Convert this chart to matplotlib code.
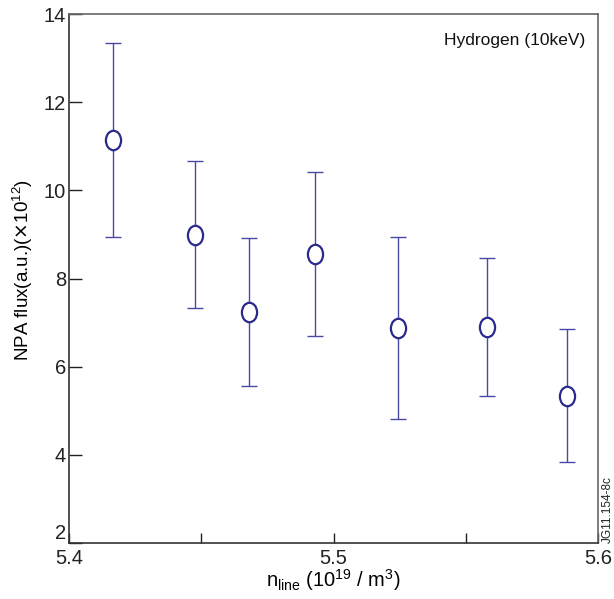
import numpy as np
import matplotlib
matplotlib.use("Agg")
import matplotlib.pyplot as plt
from matplotlib.path import Path
from matplotlib.transforms import Affine2D

plt.rcParams["font.family"] = ["Liberation Sans", "DejaVu Sans"]

# line-averaged density (10^19 / m^3) and NPA flux with error range
n_line = [5.4165, 5.4476, 5.4682, 5.4930, 5.5245, 5.5581, 5.5884]
flux = [11.14, 8.99, 7.23, 8.56, 6.88, 6.91, 5.33]
flux_hi = [13.34, 10.67, 8.93, 10.41, 8.94, 8.47, 6.85]
flux_lo = [8.95, 7.32, 5.57, 6.70, 4.81, 5.33, 3.83]

x_ticks = [5.4, 5.5, 5.6]
x_minor = [5.45, 5.55]
y_ticks = [2, 4, 6, 8, 10, 12, 14]

col = "#2a2a8c"

flux = np.array(flux)
yerr = [flux - np.array(flux_lo), np.array(flux_hi) - flux]

# tall ellipse marker
oval = Path.unit_circle().transformed(Affine2D().scale(0.78, 1.0))

fig = plt.figure(figsize=(6.14, 5.99), dpi=100)
ax = fig.add_axes([69 / 614, 1 - 543 / 599, (598 - 69) / 614, (543 - 14) / 599])

ax.errorbar(n_line, flux, yerr=yerr, fmt="none", ecolor="#4a4aa6", elinewidth=1.0,
            capsize=6, capthick=1.0)
ax.plot(n_line, flux, linestyle="none", marker=oval, markersize=14,
        markerfacecolor="white", markeredgecolor=col, markeredgewidth=1.6)

ax.set_xlim(5.4, 5.6)
ax.set_ylim(2, 14)
ax.set_xticks(x_ticks)
ax.set_xticklabels(["5.4", "5.5", "5.6"])
ax.set_xticks(x_minor, minor=True)
ax.set_yticks(y_ticks)
ax.tick_params(axis="both", which="both", direction="in", labelsize=14.5,
               colors="#222222")
ax.tick_params(axis="y", length=9, width=1, pad=2)
ax.tick_params(axis="x", which="both", length=7, width=1, pad=4)

# lowest y label sits on the axis corner, above the first x label
fig.canvas.draw()
ax.get_yticklabels()[0].set_verticalalignment("bottom")

for side in ["top", "right"]:
    ax.spines[side].set_color("#666666")
for side in ["left", "bottom"]:
    ax.spines[side].set_color("#333333")
for s in ax.spines.values():
    s.set_linewidth(1.2)

ax.set_xlabel(r"n$_{\mathregular{line}}$ (10$^{\mathregular{19}}$ / m$^{\mathregular{3}}$)",
              fontsize=14.5, labelpad=0)
ax.set_ylabel(r"NPA flux(a.u.)($\times$10$^{\mathregular{12}}$)", fontsize=13.5)
ax.yaxis.set_label_coords(-34 / 529, (543 - 270) / 529)

ax.text(0.975, 0.95, "Hydrogen (10keV)", transform=ax.transAxes, ha="right",
        va="center", fontsize=12.5, color="#111111")
fig.text(608 / 614, 1 - 543 / 599, "JG11.154-8c", rotation=90, ha="center",
         va="bottom", fontsize=8.5, color="#222222")

fig.savefig("out.png", dpi=100)
